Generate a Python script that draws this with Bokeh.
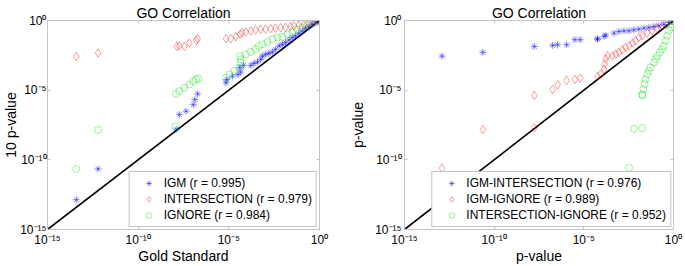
import numpy as np
from bokeh.plotting import figure
from bokeh.layouts import row
from bokeh.models import (Range1d, FixedTicker, CustomJSTickFormatter, Legend, LegendItem, LogAxis)
from bokeh.embed import file_html
from bokeh.resources import INLINE

# ---- data (log10 of p-values) ----
# Left panel: x = Gold Standard
igm_gold_x = [-13.41, -12.21, -7.90, -7.73, -7.36, -6.96, -6.87, -6.72, -5.16, -5.11, -4.80, -4.49, -4.34, -4.40,
              -4.19, -3.79, -3.61, -3.42, -3.24, -3.15, -2.97, -2.79, -2.60, -2.42, -2.23, -2.05, -1.87, -1.68,
              -1.50, -1.32, -1.14, -0.95, -0.77, -0.59, -0.40, -0.22, -0.07]
igm_gold_y = [-12.86, -10.65, -7.80, -6.75, -6.51, -6.04, -5.68, -5.27, -4.47, -4.24, -3.99, -3.88, -3.70, -3.39,
              -3.22, -3.22, -3.08, -2.98, -2.79, -2.55, -2.43, -2.36, -2.26, -2.07, -1.83, -1.71, -1.59, -1.40,
              -1.23, -1.11, -0.92, -0.75, -0.58, -0.44, -0.27, -0.10, -0.02]
int_gold_x = [-13.41, -12.21, -7.87, -7.73, -7.45, -7.18, -6.80, -6.72, -5.16, -4.89, -4.62, -4.38, -4.27, -4.07,
              -3.79, -3.52, -3.24, -2.97, -2.69, -2.42, -2.14, -1.87, -1.59, -1.41, -1.14, -0.86, -0.59, -0.31,
              -0.13, 0.0]
int_gold_y = [-2.60, -2.33, -1.86, -1.81, -1.86, -1.62, -1.42, -1.32, -1.30, -1.30, -1.16, -0.99, -0.87, -0.82,
              -0.75, -0.67, -0.63, -0.63, -0.58, -0.56, -0.51, -0.49, -0.44, -0.39, -0.34, -0.29, -0.22, -0.15,
              -0.08, 0.0]
ign_gold_x = [-13.41, -12.21, -7.95, -7.91, -7.73, -7.46, -7.18, -6.96, -6.81, -6.69, -5.16, -4.98, -4.70, -4.43,
              -4.34, -4.34, -4.38, -4.07, -3.79, -3.52, -3.34, -3.15, -2.87, -2.60, -2.32, -2.05, -1.77, -1.50,
              -1.22, -0.95, -0.68, -0.40, -0.13]
ign_gold_y = [-10.65, -7.86, -7.60, -5.27, -5.07, -4.83, -4.60, -4.35, -4.24, -4.16, -4.11, -3.88, -3.63, -3.39,
              -3.03, -2.80, -2.55, -2.43, -2.26, -2.07, -1.83, -1.71, -1.54, -1.35, -1.23, -1.16, -0.99, -0.82,
              -0.63, -0.51, -0.34, -0.15, -0.03]

# Right panel: pairwise comparisons
igm_int_x = [-12.91, -10.63, -7.76, -6.74, -6.46, -5.96, -5.50, -5.20, -4.24, -4.24, -3.87, -3.78, -3.32, -3.04,
             -2.76, -2.48, -2.21, -1.93, -1.65, -1.37, -1.09, -0.82, -0.54, -0.26, -0.07]
igm_int_y = [-2.56, -2.29, -1.86, -1.79, -1.74, -1.74, -1.38, -1.38, -1.31, -1.34, -1.14, -1.05, -0.91, -0.79,
             -0.74, -0.74, -0.67, -0.62, -0.55, -0.50, -0.43, -0.38, -0.28, -0.14, -0.02]
igm_ign_x = [-12.91, -10.63, -7.76, -7.76, -6.74, -6.46, -5.96, -5.50, -5.20, -4.24, -4.06, -3.87, -3.83, -3.78,
             -3.68, -3.41, -3.22, -3.04, -2.85, -2.67, -2.48, -2.29, -2.11, -1.93, -1.74, -1.46, -1.19, -0.91,
             -0.63, -0.35, -0.07]
igm_ign_y = [-10.60, -7.82, -7.70, -5.38, -4.95, -4.61, -4.30, -4.23, -4.14, -4.02, -3.85, -3.49, -3.13, -2.77,
             -2.53, -2.53, -2.41, -2.29, -2.10, -1.93, -1.81, -1.62, -1.45, -1.22, -1.10, -0.91, -0.74, -0.57,
             -0.38, -0.21, -0.02]
int_ign_x = [-2.48, -2.20, -1.74, -1.74, -1.74, -1.68, -1.61, -1.56, -1.46, -1.37, -1.28, -1.09, -1.00, -0.91,
             -0.76, -0.63, -0.54, -0.44, -0.35, -0.26, -0.17, -0.07, -0.01]
int_ign_y = [-10.57, -7.77, -7.73, -5.38, -5.29, -4.93, -4.57, -4.21, -3.85, -3.61, -3.37, -3.01, -2.77, -2.53,
             -2.29, -2.05, -1.81, -1.45, -1.09, -0.73, -0.49, -0.25, -0.01]

diag = [1e-15, 1.0]
tick_values = [1e-15, 1e-10, 1e-5, 1.0]
tick_texts = ["10\u207b\u00b9\u2075", "10\u207b\u00b9\u2070", "10\u207b\u2075", "10\u2070"]

left_labels = ["IGM (r = 0.995)", "INTERSECTION (r = 0.979)", "IGNORE (r = 0.984)"]
right_labels = ["IGM-INTERSECTION (r = 0.976)", "IGM-IGNORE (r = 0.989)", "INTERSECTION-IGNORE (r = 0.952)"]

FONT = "Liberation Sans"
BLUE = "#0000ff"
RED = "#ff0000"
GREEN = "#00e000"
FRAME = "#c4c4c4"


def p(v):
    return np.power(10.0, np.asarray(v, dtype=float))


TICK_JS = """
for (let i = 0; i < vals.length; i++) {
  if (Math.abs(Math.log10(vals[i]) - Math.log10(tick)) < 1e-6) { return labs[i]; }
}
return '';
"""


def style_axis(ax, show_labels):
    ax.ticker = FixedTicker(ticks=tick_values)
    if show_labels:
        ax.formatter = CustomJSTickFormatter(args=dict(vals=tick_values, labs=tick_texts), code=TICK_JS)
        ax.major_label_text_font = FONT
        ax.major_label_text_font_size = "12px"
        ax.major_label_text_color = "#000000"
    else:
        ax.formatter = CustomJSTickFormatter(code="return ''")
        ax.major_label_text_font_size = "0px"
        ax.major_label_standoff = 0
    ax.axis_line_color = FRAME
    ax.major_tick_line_color = FRAME
    ax.major_tick_in = 3
    ax.major_tick_out = 0
    ax.minor_tick_line_color = None


def make_fig(width, bl, br, xlabel, ylabel, ylab_standoff, ytick_standoff, series, labels):
    f = figure(width=width, height=266, x_axis_type="log", y_axis_type="log",
               x_range=Range1d(1e-15, 1.0), y_range=Range1d(1e-15, 1.0),
               output_backend="svg", toolbar_location=None,
               min_border_left=bl, min_border_right=br, min_border_top=20, min_border_bottom=37,
               title="GO Correlation")
    f.title.align = "center"
    f.title.text_font = FONT
    f.title.text_font_size = "14px"
    f.title.text_font_style = "normal"
    f.title.text_color = "#000000"
    f.title.standoff = -1
    f.xgrid.visible = False
    f.ygrid.visible = False
    f.outline_line_color = FRAME
    f.outline_line_width = 1
    f.background_fill_color = "white"
    f.border_fill_color = "white"

    for ax, lab in ((f.xaxis[0], xlabel), (f.yaxis[0], ylabel)):
        style_axis(ax, True)
        ax.axis_label = lab
        ax.axis_label_text_font = FONT
        ax.axis_label_text_font_size = "14px"
        ax.axis_label_text_font_style = "normal"
        ax.axis_label_text_color = "#000000"
    f.xaxis[0].major_label_standoff = 3
    f.xaxis[0].axis_label_standoff = -2
    f.yaxis[0].major_label_standoff = ytick_standoff
    f.yaxis[0].axis_label_standoff = ylab_standoff

    # box ticks on top and right edges
    top = LogAxis()
    right = LogAxis()
    for ax in (top, right):
        style_axis(ax, False)
    f.add_layout(top, "above")
    f.add_layout(right, "right")

    f.line(diag, diag, line_color="black", line_width=1.6)

    (bx, by), (rx, ry), (gx, gy) = series
    r1 = f.scatter(p(bx), p(by), marker="asterisk", size=7, line_color=BLUE, line_alpha=0.45, line_width=1)
    r2 = f.scatter(p(rx), p(ry), marker="diamond", size=8.5, line_color=RED, fill_color=None,
                   line_alpha=0.4, line_width=1)
    r3 = f.scatter(p(gx), p(gy), marker="circle", size=7, line_color=GREEN, fill_color=None,
                   line_alpha=0.4, line_width=1)

    leg = Legend(items=[LegendItem(label=labels[0], renderers=[r1]),
                        LegendItem(label=labels[1], renderers=[r2]),
                        LegendItem(label=labels[2], renderers=[r3])],
                 location="bottom_right")
    leg.margin = 2
    leg.padding = 4
    leg.spacing = 2
    leg.glyph_width = 30
    leg.glyph_height = 14
    leg.label_height = 14
    leg.label_standoff = 0
    leg.label_text_font = FONT
    leg.label_text_font_size = "12px"
    leg.label_text_color = "#000000"
    leg.border_line_color = "#8a8a8a"
    leg.border_line_width = 1
    leg.background_fill_color = "white"
    leg.background_fill_alpha = 1.0
    f.add_layout(leg)
    return f


p1 = make_fig(342, 46, 23, "Gold Standard", "10 p-value", -2, 1,
              [(igm_gold_x, igm_gold_y), (int_gold_x, int_gold_y), (ign_gold_x, ign_gold_y)], left_labels)
p2 = make_fig(343, 62, 12, "p-value", "p-value", 6, 3,
              [(igm_int_x, igm_int_y), (igm_ign_x, igm_ign_y), (int_ign_x, int_ign_y)], right_labels)

layout = row(p1, p2)
open("out.html", "w").write(file_html(layout, INLINE))
